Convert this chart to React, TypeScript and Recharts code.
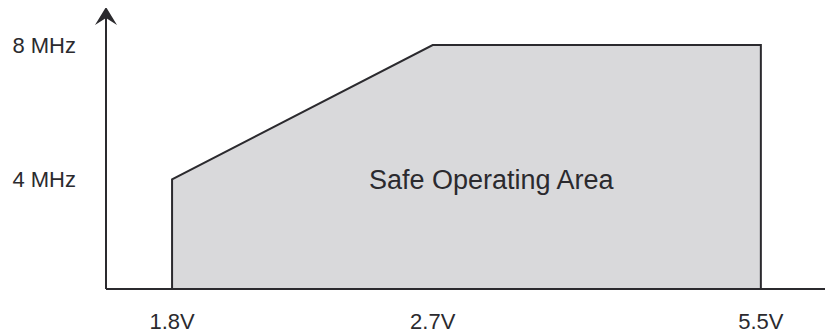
import React from 'react';
import { AreaChart, Area, XAxis, YAxis, ReferenceDot } from 'recharts';

// outline of the safe operating area, voltage (V) vs clock (MHz)
const voltage = [1.8, 1.8, 2.7, 5.5, 5.5];
const frequency = [0, 4, 8, 8, 0];

const xTicks = [1.8, 2.7, 5.5];
const xTickLabels = ['1.8V', '2.7V', '5.5V'];
const yTicks = [4, 8];
const yTickLabels = ['4 MHz', '8 MHz'];

const areaLabel = 'Safe Operating Area';

// the drawing is schematic: axes are piecewise, not linear
const xKnots = [1.5, 1.8, 2.7, 5.5, 6];
const xStops = [0, 0.091, 0.45, 0.902, 1];
const yKnots = [0, 4, 8, 9];
const yStops = [0, 0.405, 0.9, 1];

const data = voltage.map((v, i) => ({ v, f: frequency[i] }));

const INK = '#2b2a2e';
const FONT = '"Liberation Sans", Arial, Helvetica, sans-serif';

function piecewiseScale(knots: number[], stops: number[]): any {
  let dom = [knots[0], knots[knots.length - 1]];
  let rng = [0, 1];
  const s: any = (v: number) => {
    let t: number;
    if (v <= knots[0]) t = stops[0];
    else if (v >= knots[knots.length - 1]) t = stops[stops.length - 1];
    else {
      let i = 0;
      while (v > knots[i + 1]) i++;
      const k = (v - knots[i]) / (knots[i + 1] - knots[i]);
      t = stops[i] + k * (stops[i + 1] - stops[i]);
    }
    return rng[0] + t * (rng[1] - rng[0]);
  };
  s.domain = (d?: number[]) => {
    if (d === undefined) return dom.slice();
    dom = d.slice();
    return s;
  };
  s.range = (r?: number[]) => {
    if (r === undefined) return rng.slice();
    rng = r.slice();
    return s;
  };
  s.copy = () => piecewiseScale(knots, stops).domain(dom).range(rng);
  s.ticks = () => knots.slice();
  return s;
}

const xScale = piecewiseScale(xKnots, xStops);
const yScale = piecewiseScale(yKnots, yStops);

export default function App() {
  return (
    <div style={{ fontFamily: FONT }}>
      <AreaChart
        width={825}
        height={327}
        data={data}
        margin={{ top: 10, right: 1, bottom: 0, left: 0 }}
      >
        <defs>
          <marker
            id="axisArrow"
            viewBox="0 0 18 22"
            refX={7}
            refY={11}
            markerWidth={18}
            markerHeight={22}
            markerUnits="userSpaceOnUse"
            orient="auto-start-reverse"
          >
            <path d="M18,11 L0,0 L7,11 L0,22 Z" fill={INK} />
          </marker>
        </defs>
        <XAxis
          dataKey="v"
          type="number"
          scale={xScale}
          domain={[xKnots[0], xKnots[xKnots.length - 1]]}
          allowDataOverflow
          ticks={xTicks}
          tickFormatter={(v: number) => xTickLabels[xTicks.indexOf(v)] ?? String(v)}
          height={46}
          tickLine={false}
          tickSize={0}
          tickMargin={24}
          axisLine={{ stroke: INK, strokeWidth: 2, markerEnd: 'url(#axisArrow)' }}
          tick={{ fill: INK, fontSize: 22, fontFamily: FONT }}
        />
        <YAxis
          type="number"
          scale={yScale}
          domain={[yKnots[0], yKnots[yKnots.length - 1]]}
          allowDataOverflow
          ticks={yTicks}
          tickFormatter={(v: number) => yTickLabels[yTicks.indexOf(v)] ?? String(v)}
          width={98}
          tickLine={false}
          tickSize={0}
          tickMargin={30}
          axisLine={{ stroke: INK, strokeWidth: 2, markerStart: 'url(#axisArrow)' }}
          tick={{ fill: INK, fontSize: 22, fontFamily: FONT }}
        />
        <Area
          type="linear"
          dataKey="f"
          baseValue={0}
          stroke={INK}
          strokeWidth={2}
          fill="#d9d9db"
          fillOpacity={1}
          isAnimationActive={false}
        />
        <ReferenceDot
          x={3.2}
          y={4}
          r={0}
          fill="none"
          stroke="none"
          label={{ value: areaLabel, position: 'center', fontSize: 27, fill: INK, fontFamily: FONT }}
        />
      </AreaChart>
    </div>
  );
}
